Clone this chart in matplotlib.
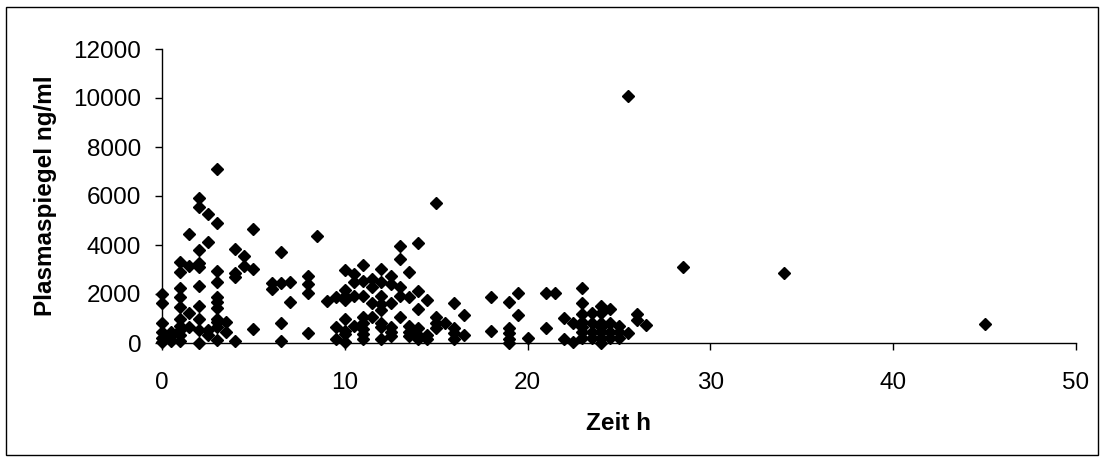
import matplotlib
matplotlib.use("Agg")
import matplotlib.pyplot as plt
from matplotlib.patches import Rectangle

# Data (time in h, plasma level in ng/ml)
zeit_groups = [0, 0.5, 1, 1.5, 2, 2.5, 3, 3.5, 4, 4.5, 5, 6, 6.5, 7, 8, 8.5, 9, 9.5,
               10, 10.5, 11, 11.5, 12, 12.5, 13, 13.5, 14, 14.5, 15, 15.5, 16, 16.5,
               18, 19, 19.5, 20, 21, 21.5, 22, 22.5, 23, 23.5, 24, 24.5, 25, 25.5,
               26, 26.5, 28.5, 34, 45]
plasma_groups = [
    [2000, 1620, 800, 460, 200, 60],
    [460, 300, 90],
    [3320, 2880, 2230, 1890, 1460, 1000, 700, 530, 330, 90],
    [4450, 3160, 1210, 670],
    [5900, 5540, 3800, 3280, 3090, 2340, 1520, 1000, 530, 10],
    [5265, 4110, 530, 330],
    [7100, 4885, 2950, 2500, 1890, 1690, 1420, 1000, 870, 670, 120],
    [870, 460],
    [3820, 2840, 2680, 90],
    [3550, 3160],
    [4640, 3010, 560],
    [2430, 2190],
    [3730, 2430, 830, 90],
    [2500, 1690],
    [2730, 2410, 2050, 420],
    [4367],
    [1730],
    [1890, 640, 170],
    [2980, 2160, 1920, 1760, 1000, 470, 370, 60],
    [2820, 2500, 1920, 700],
    [3180, 2540, 1920, 1050, 800, 560, 350, 150],
    [2600, 2270, 1650, 1080],
    [3020, 2500, 1920, 1590, 1350, 800, 650, 150],
    [2750, 2410, 1650, 670, 460, 280],
    [3960, 3420, 2270, 1920, 1080],
    [2910, 1860, 700, 460, 280],
    [4070, 2140, 1390, 610, 330, 150],
    [1760, 330, 150],
    [5730, 1070, 800, 610],
    [830],
    [1650, 610, 420, 150],
    [1140, 340],
    [1860, 480],
    [1690, 620, 420, 180, 20],
    [2030, 1140],
    [190],
    [2030, 610],
    [2050],
    [1010, 150],
    [830, 60],
    [2230, 1650, 1180, 870, 650, 460, 220],
    [1240, 830, 460, 220],
    [1510, 1210, 800, 650, 460, 220, 20],
    [1400, 800, 460, 220],
    [690, 460, 220],
    [10080, 420],
    [1170, 940],
    [730],
    [3090],
    [2840],
    [775],
]

x_ticks = [0, 10, 20, 30, 40, 50]
y_ticks = [0, 2000, 4000, 6000, 8000, 10000, 12000]

zeit = []
plasma = []
for xv, ys in zip(zeit_groups, plasma_groups):
    for yv in ys:
        zeit.append(xv)
        plasma.append(yv)

plt.rcParams['font.family'] = ['Liberation Sans', 'DejaVu Sans']

W, H = 1105, 461
fig = plt.figure(figsize=(W / 100, H / 100), dpi=100)
fig.patch.set_facecolor('white')
fig.patches.append(Rectangle((6 / W, 6 / H), (W - 13) / W, (H - 13) / H,
                             transform=fig.transFigure, fill=False,
                             edgecolor='black', linewidth=1.0))

ax = fig.add_axes([162 / W, (H - 343) / H, 914 / W, 294 / H])
ax.plot(zeit, plasma, linestyle='none', marker='D', markersize=6.2,
        color='black', clip_on=False)

ax.set_xlim(0, 50)
ax.set_ylim(0, 12000)
ax.set_xticks(x_ticks)
ax.set_yticks(y_ticks)
ax.set_xticklabels([str(v) for v in x_ticks])
ax.set_yticklabels([str(v) for v in y_ticks])
for s in ['top', 'right']:
    ax.spines[s].set_visible(False)
for s in ['left', 'bottom']:
    ax.spines[s].set_linewidth(1.0)
ax.tick_params(axis='x', direction='out', length=5, width=1, pad=16, labelsize=17.5)
ax.tick_params(axis='y', direction='out', length=5, width=1, pad=10, labelsize=17.5)

fig.text(619 / W, 1 - 423 / H, 'Zeit h', ha='center', va='center',
         fontsize=17.5, fontweight='bold')
fig.text(46 / W, 1 - 196 / H, 'Plasmaspiegel ng/ml', ha='center', va='center',
         rotation=90, fontsize=17.5, fontweight='bold')

fig.savefig('out.png', dpi=100)
